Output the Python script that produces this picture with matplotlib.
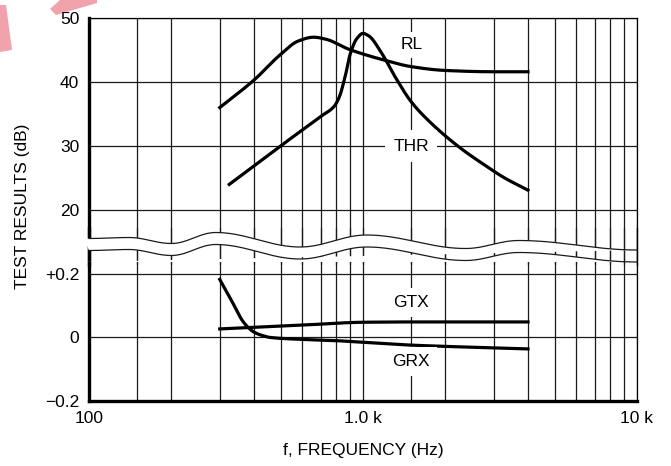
import matplotlib
matplotlib.use('Agg')
import matplotlib.pyplot as plt
import numpy as np
from matplotlib.patches import Polygon
from matplotlib.lines import Line2D
from matplotlib.ticker import NullFormatter
from matplotlib.transforms import blended_transform_factory

plt.rcParams['font.family'] = ['Liberation Sans', 'DejaVu Sans']

# ---- data ----
rl_f = [300, 400, 500, 580, 660, 730, 890, 1200, 1500, 2000, 3000, 4000]
rl_db = [36.0, 40.3, 44.3, 46.4, 47.0, 46.7, 45.1, 43.4, 42.4, 41.8, 41.6, 41.6]

thr_f = [325, 500, 700, 785, 820, 860, 900, 950, 1000, 1050, 1170, 1310,
         1500, 1770, 2280, 2740, 3290, 4000]
thr_db = [24.0, 30.0, 34.6, 36.2, 37.7, 40.8, 44.5, 46.8, 47.6, 47.2, 44.5,
          40.8, 36.9, 33.6, 29.6, 27.2, 25.0, 23.1]

gtx_f = [300, 600, 1000, 1500, 2000, 4000]
gtx_db = [0.027, 0.039, 0.048, 0.049, 0.049, 0.049]

grx_f = [300, 330, 368, 400, 430, 460, 600, 800, 1000, 1500, 2000, 4000]
grx_db = [0.183, 0.119, 0.046, 0.017, 0.006, 0.0, -0.006, -0.010, -0.015,
          -0.024, -0.028, -0.036]

x_major = [100, 1000, 10000]
x_major_labels = ['100', '1.0 k', '10 k']
x_grid = [150, 200, 300, 400, 500, 600, 700, 800, 900,
          1500, 2000, 3000, 4000, 5000, 6000, 7000, 8000, 9000]
top_ticks = [20, 30, 40, 50]
bot_ticks = [-0.2, 0, 0.2]
bot_tick_labels = ['\u22120.2', '0', '+0.2']


def smooth(f, y, n=300):
    # monotone cubic (Fritsch-Carlson) through the points, in log f
    x = np.log10(f)
    y = np.asarray(y, dtype=float)
    h = np.diff(x)
    d = np.diff(y) / h
    m = np.empty_like(y)
    m[0], m[-1] = d[0], d[-1]
    for k in range(1, len(y) - 1):
        if d[k - 1] * d[k] <= 0:
            m[k] = 0.0
        else:
            w1 = 2 * h[k] + h[k - 1]
            w2 = h[k] + 2 * h[k - 1]
            m[k] = (w1 + w2) / (w1 / d[k - 1] + w2 / d[k])
    xs = np.linspace(x[0], x[-1], n)
    i = np.clip(np.searchsorted(x, xs) - 1, 0, len(x) - 2)
    t = (xs - x[i]) / h[i]
    ys = ((2 * t**3 - 3 * t**2 + 1) * y[i] + (t**3 - 2 * t**2 + t) * h[i] * m[i]
          + (-2 * t**3 + 3 * t**2) * y[i + 1] + (t**3 - t**2) * h[i] * m[i + 1])
    return 10 ** xs, ys


# ---- layout (pixels) ----
W, H = 671, 466
fig = plt.figure(figsize=(W / 100, H / 100), dpi=100)


def box(top, bot, left=89, right=637):
    return [left / W, 1 - bot / H, (right - left) / W, (bot - top) / H]


ax1 = fig.add_axes(box(18, 265))
ax2 = fig.add_axes(box(228, 401))
ax2.set_facecolor('none')

ax1.set_ylim(50 - (265 - 18) / 6.4, 50)
ax2.set_ylim(-0.2, -0.2 + (401 - 228) / 317.5)

fs = 12.5
for ax in (ax1, ax2):
    ax.set_xscale('log')
    ax.set_xlim(100, 10000)
    ax.set_xticks(x_major)
    ax.set_xticks(x_grid, minor=True)
    ax.xaxis.set_minor_formatter(NullFormatter())
    ax.tick_params(which='both', length=0, labelsize=fs, pad=7)
    ax.grid(True, which='both', color='#1a1a1a', lw=0.9)
    ax.spines['left'].set_linewidth(2.4)
    ax.spines['right'].set_linewidth(0.9)

ax1.spines['bottom'].set_visible(False)
ax1.spines['top'].set_linewidth(0.9)
ax1.tick_params(labelbottom=False)
ax1.set_yticks(top_ticks)

ax2.spines['top'].set_visible(False)
ax2.spines['bottom'].set_linewidth(2.4)
ax2.set_xticklabels(x_major_labels)
ax2.set_yticks(bot_ticks)
ax2.set_yticklabels(bot_tick_labels)

lw = 2.3
ax1.plot(*smooth(rl_f, rl_db), color='k', lw=lw)
ax1.plot(*smooth(thr_f, thr_db), color='k', lw=lw)
ax2.plot(*smooth(gtx_f, gtx_db), color='k', lw=lw)
ax2.plot(*smooth(grx_f, grx_db), color='k', lw=lw)

lbl = dict(ha='center', va='center', fontsize=fs)
ax1.text(1500, 45.8, 'RL', bbox=dict(fc='white', ec='none', pad=4), **lbl)
ax1.text(1500, 30, 'THR', bbox=dict(fc='white', ec='none', pad=6), **lbl)
ax2.text(1500, 0.11, 'GTX', bbox=dict(fc='white', ec='none', pad=5), **lbl)
ax2.text(1500, -0.075, 'GRX', bbox=dict(fc='white', ec='none', pad=5), **lbl)

# ---- wavy axis break ----
wave_f = [100, 140, 200, 290, 590, 1030, 2370, 3700, 10000]
wave_y = [238.5, 237.5, 243.5, 232.5, 247, 235, 248.5, 240.5, 250]
lf = np.log10(wave_f)
xs = np.linspace(lf[0], lf[-1], 500)
idx = np.clip(np.searchsorted(lf, xs) - 1, 0, len(lf) - 2)
t = (xs - lf[idx]) / (lf[idx + 1] - lf[idx])
y0, y1 = np.array(wave_y)[idx], np.array(wave_y)[idx + 1]
top = y0 + (y1 - y0) * (1 - np.cos(np.pi * t)) / 2
bot = top + 12
fx = 10 ** xs

trans = blended_transform_factory(ax1.transData, fig.transFigure)
pts = np.vstack([np.column_stack([np.r_[96, fx], 1 - np.r_[top[0], top] / H]),
                 np.column_stack([np.r_[fx, 96][::-1], 1 - np.r_[bot, bot[-1]][::-1] / H])])
fig.add_artist(Polygon(pts, closed=True, transform=trans, fc='white',
                       ec='none', zorder=5))
fig.add_artist(Line2D(fx, 1 - top / H, transform=trans, color='#1a1a1a',
                      lw=0.9, zorder=6))
fig.add_artist(Line2D(fx, 1 - bot / H, transform=trans, color='#1a1a1a',
                      lw=0.9, zorder=6))

# ---- axis titles ----
fig.text(23 / W, 1 - 206 / H, 'TEST RESULTS (dB)', rotation=90,
         ha='center', va='center', fontsize=fs)
fig.text(363 / W, 1 - 451 / H, 'f, FREQUENCY (Hz)', ha='center',
         va='center', fontsize=fs)

# pink watermark fragments at the top left
for poly in ([(0, 5), (6, 5), (12, 50), (0, 52)],
             [(50, 9), (56, 15), (97, 3), (97, 0), (60, 0)]):
    p = np.array(poly, dtype=float)
    fig.add_artist(Polygon(np.column_stack([p[:, 0] / W, 1 - p[:, 1] / H]),
                           closed=True, transform=fig.transFigure,
                           fc='#f0a3aa', ec='none', zorder=0))

fig.savefig('out.png', dpi=100)
